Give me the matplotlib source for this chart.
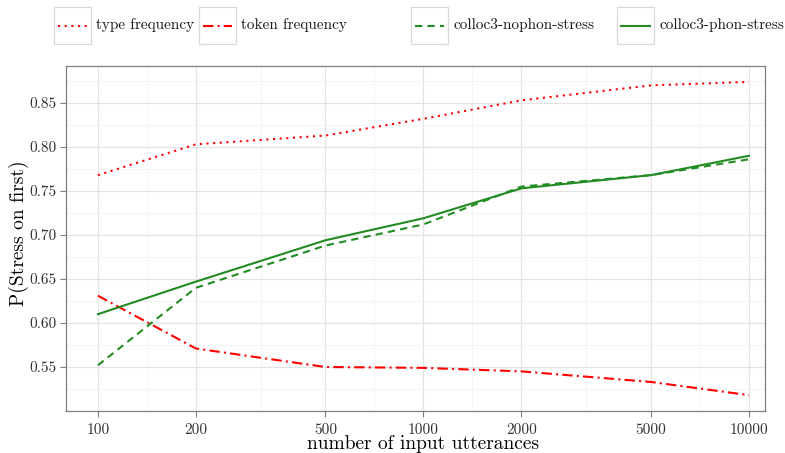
import numpy as np
import matplotlib
matplotlib.use("Agg")
import matplotlib.pyplot as plt
from matplotlib.lines import Line2D
from matplotlib.patches import Rectangle

plt.rcParams['font.family'] = ['cmr10', 'DejaVu Serif']
plt.rcParams['axes.unicode_minus'] = False
plt.rcParams['mathtext.fontset'] = 'cm'

# data
n_utt = [100, 200, 500, 1000, 2000, 5000, 10000]
type_freq = [0.768, 0.803, 0.813, 0.832, 0.853, 0.870, 0.874]
token_freq = [0.631, 0.571, 0.550, 0.549, 0.545, 0.533, 0.518]
nophon = [0.552, 0.640, 0.688, 0.712, 0.755, 0.768, 0.786]
phon = [0.610, 0.647, 0.694, 0.719, 0.753, 0.768, 0.790]
y_ticks = [0.55, 0.60, 0.65, 0.70, 0.75, 0.80, 0.85]
labels = ['type frequency', 'token frequency', 'colloc3-nophon-stress', 'colloc3-phon-stress']

W, H = 785, 453
fig = plt.figure(figsize=(W/100, H/100), dpi=100)
ax = fig.add_axes([66/W, 1-411/H, (765-66)/W, (411-66)/H])

green = '#228B22'
styles = [
    dict(color='red', linestyle=(0, (1, 2.2)), lw=1.5),
    dict(color='red', linestyle=(0, (5, 2, 1, 2)), lw=1.5),
    dict(color=green, linestyle=(0, (3.5, 2.5)), lw=1.5),
    dict(color=green, linestyle='-', lw=1.5),
]
series = [type_freq, token_freq, nophon, phon]
for s, st in zip(series, styles):
    ax.plot(n_utt, s, **st, zorder=3)

ax.set_xscale('log')
ax.set_xlim(79.8, 11200)
ax.set_ylim(0.50, 0.892)
ax.set_xticks(n_utt)
ax.set_xticklabels([str(v) for v in n_utt])
ax.set_yticks(y_ticks)
ax.set_yticklabels(['%.2f' % v for v in y_ticks])
ax.minorticks_off()

# grid: major + ggplot style minor (log midpoints)
for v in n_utt:
    ax.axvline(v, color='#e3e3e3', lw=0.9, zorder=0)
for a, b in zip(n_utt[:-1], n_utt[1:]):
    ax.axvline(np.sqrt(a*b), color='#f2f2f2', lw=0.6, zorder=0)
for v in y_ticks:
    ax.axhline(v, color='#e3e3e3', lw=0.9, zorder=0)
for v in [0.525, 0.575, 0.625, 0.675, 0.725, 0.775, 0.825, 0.875]:
    ax.axhline(v, color='#f2f2f2', lw=0.6, zorder=0)

for sp in ax.spines.values():
    sp.set_color('#7f7f7f')
    sp.set_linewidth(0.9)
ax.tick_params(which='major', length=4, width=0.8, color='#7f7f7f',
               labelsize=11, labelcolor='#333333', pad=3)
ax.tick_params(axis='x', pad=4.5)

ax.set_xlabel('number of input utterances', fontsize=14)
ax.set_ylabel('P(Stress on first)', fontsize=14)
ax.xaxis.set_label_coords(0.511, -0.071)
ax.yaxis.set_label_coords(-0.053, 0.516)

# legend on top, drawn in figure pixels
key_x = [54, 199, 411, 617]
for kx, lab, st in zip(key_x, labels, styles):
    fig.patches.append(Rectangle((kx/W, 1-44/H), 37/W, 37/H, transform=fig.transFigure,
                                 fill=False, edgecolor='#d9d9d9', lw=0.9))
    fig.lines.append(Line2D([(kx+4)/W, (kx+33)/W], [1-25.5/H, 1-25.5/H],
                            transform=fig.transFigure, **st))
    fig.text((kx+42)/W, 1-25.5/H, lab, fontsize=11, va='center', ha='left', color='#1a1a1a')

fig.savefig('out.png', dpi=100)
